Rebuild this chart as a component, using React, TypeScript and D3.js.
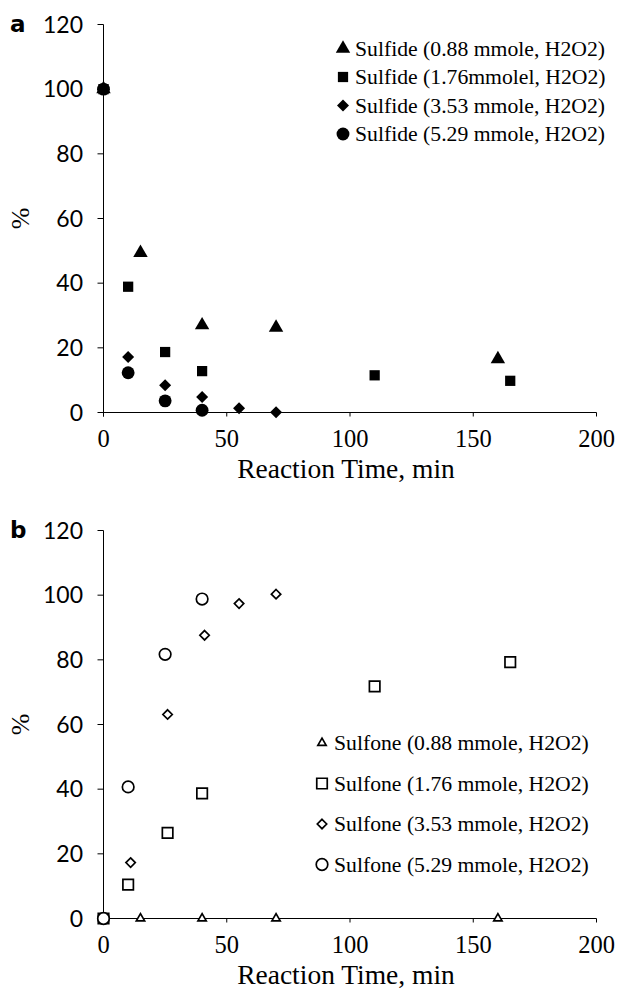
import React from "react";
import * as d3 from "d3";

// panel a: sulfide remaining (%) vs reaction time (min)
const sulfideLabels = [
  "Sulfide (0.88 mmole, H2O2)",
  "Sulfide (1.76mmolel, H2O2)",
  "Sulfide (3.53 mmole, H2O2)",
  "Sulfide (5.29 mmole, H2O2)",
];
const sulfide088 = [[0, 100], [15, 49.4], [40, 27], [70, 26.3], [160, 16.5]];
const sulfide176 = [[0, 100], [10, 38.9], [25, 18.7], [40, 12.8], [110, 11.5], [165, 9.8]];
const sulfide353 = [[0, 100], [10, 17.2], [25, 8.4], [40, 4.8], [55, 1.3], [70, 0.1]];
const sulfide529 = [[0, 100], [10, 12.3], [25, 3.6], [40, 0.7]];

// panel b: sulfone formed (%) vs reaction time (min)
const sulfoneLabels = [
  "Sulfone (0.88 mmole, H2O2)",
  "Sulfone (1.76 mmole, H2O2)",
  "Sulfone (3.53 mmole, H2O2)",
  "Sulfone (5.29 mmole, H2O2)",
];
const sulfone088 = [[0, 0], [15, 0], [40, 0], [70, 0], [160, 0]];
const sulfone176 = [[0, 0], [10, 10.5], [26, 26.5], [40, 38.7], [110, 71.8], [165, 79.3]];
const sulfone353 = [[0, 0], [11, 17.3], [26, 63.1], [41, 87.6], [55, 97.4], [70, 100.3]];
const sulfone529 = [[0, 0], [10, 40.7], [25, 81.7], [40, 98.8]];

const xTicks = [0, 50, 100, 150, 200];
const yTicks = [0, 20, 40, 60, 80, 100, 120];

const serif = "'Liberation Serif', 'DejaVu Serif', serif";
const sans = "Lato, 'Open Sans', sans-serif";

// square turned 45 degrees
const diamond = {
  draw(ctx: any, size: number) {
    const r = Math.sqrt(size / 2);
    ctx.moveTo(0, -r);
    ctx.lineTo(r, 0);
    ctx.lineTo(0, r);
    ctx.lineTo(-r, 0);
    ctx.closePath();
  },
};

const Panel = ({ top, letter, series, labels, filled, legend }: any) => {
  const x = d3.scaleLinear().domain([0, 200]).range([103.5, 596.5]);
  const y = d3.scaleLinear().domain([0, 120]).range([top + 388, top]);

  const sym = (type: any, size: number) => d3.symbol().type(type).size(size)() as string;
  const shapes = filled
    ? [sym(d3.symbolTriangle, 90), sym(d3.symbolSquare, 105), sym(diamond, 72), sym(d3.symbolCircle, 130)]
    : [sym(d3.symbolTriangle, 30), sym(d3.symbolSquare, 110), sym(diamond, 44), sym(d3.symbolCircle, 105)];

  const mark = (i: number, tx: number, ty: number, key: any) => (
    <path
      key={key}
      d={shapes[i]}
      transform={`translate(${tx},${ty})`}
      fill={filled ? "#000" : "#fff"}
      stroke="#000"
      strokeWidth={filled ? 0 : 1.7}
    />
  );

  return (
    <g>
      <text x={10} y={top + 7} fontFamily="'DejaVu Sans', sans-serif" fontWeight="bold" fontSize={23}>
        {letter}
      </text>
      <text
        transform={`translate(29,${y(60)}) rotate(-90)`}
        textAnchor="middle"
        fontFamily={serif}
        fontSize={26}
      >
        %
      </text>
      {yTicks.map((t) => (
        <g key={"y" + t}>
          <line x1={x(0) - 6} x2={x(0)} y1={y(t)} y2={y(t)} stroke="#000" />
          <text x={83} y={y(t) + 8} textAnchor="end" fontFamily={sans} fontSize={23}>
            {t}
          </text>
        </g>
      ))}
      <line x1={x(0)} x2={x(0)} y1={y(120)} y2={y(0) + 4} stroke="#000" />
      {xTicks.map((t) => (
        <g key={"x" + t}>
          <line x1={x(t)} x2={x(t)} y1={y(0)} y2={y(0) + 4} stroke="#000" />
          <text x={x(t)} y={y(0) + 34} textAnchor="middle" fontFamily={serif} fontSize={24.5}>
            {t}
          </text>
        </g>
      ))}
      <line x1={x(0)} x2={x(200)} y1={y(0)} y2={y(0)} stroke="#000" />
      <text x={x(100) - 4} y={y(0) + 65} textAnchor="middle" fontFamily={serif} fontSize={27.5}>
        Reaction Time, min
      </text>
      {series.map((s: number[][], i: number) => s.map((d, j) => mark(i, x(d[0]), y(d[1]), `${i}-${j}`)))}
      {labels.map((l: string, i: number) => (
        <g key={"l" + i}>
          {mark(i, legend.x, legend.y + i * legend.dy, "lm" + i)}
          <text x={legend.x + 12} y={legend.y + i * legend.dy + 7} fontFamily={serif} fontSize={21.7}>
            {l}
          </text>
        </g>
      ))}
    </g>
  );
};

export default function App() {
  return (
    <svg width={617} height={992} style={{ position: "absolute", left: 0, top: 0, background: "#fff" }}>
      <rect width={617} height={992} fill="#fff" />
      <Panel
        top={24.5}
        letter="a"
        series={[sulfide088, sulfide176, sulfide353, sulfide529]}
        labels={sulfideLabels}
        filled={true}
        legend={{ x: 343, y: 48.5, dy: 28.5 }}
      />
      <Panel
        top={530.5}
        letter="b"
        series={[sulfone088, sulfone176, sulfone353, sulfone529]}
        labels={sulfoneLabels}
        filled={false}
        legend={{ x: 322, y: 743, dy: 40.5 }}
      />
    </svg>
  );
}
